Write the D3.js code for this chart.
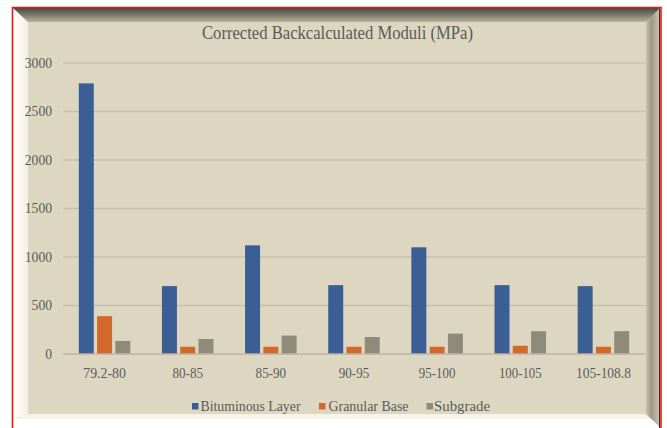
<!DOCTYPE html>
<html>
<head>
<meta charset="utf-8">
<script src="https://cdn.jsdelivr.net/npm/d3@7"></script>
<style>
  html, body { margin: 0; padding: 0; background: #ffffff; }
  svg { display: block; }
  text { font-family: "Liberation Serif", "Times New Roman", serif; fill: #5a5a5a; }
</style>
</head>
<body>
<svg id="chart" width="667" height="428"></svg>
<script>
// Depth intervals (categories)
const categories = ["79.2-80", "80-85", "85-90", "90-95", "95-100", "100-105", "105-108.8"];
const seriesNames = ["Bituminous Layer", "Granular Base", "Subgrade"];
// Corrected backcalculated moduli, MPa
const bituminous = [2790, 700, 1120, 710, 1100, 710, 700];
const granular   = [390, 75, 75, 75, 75, 85, 75];
const subgrade   = [135, 155, 190, 175, 210, 235, 235];
const yTicks = [0, 500, 1000, 1500, 2000, 2500, 3000];
const titleText = "Corrected Backcalculated  Moduli (MPa)";

const seriesValues = [bituminous, granular, subgrade];
const colors = ["#3b5e95", "#d2692a", "#8e8b7b"];

const svg = d3.select("#chart");
const defs = svg.append("defs");

// --- beveled frame ---
const outer = { x0: 13, y0: 8, x1: 660, y1: 419 };
const inner = { x0: 28, y0: 22, x1: 646, y1: 414 };

const gTop = defs.append("linearGradient").attr("id", "gTop").attr("x1", 0).attr("y1", 0).attr("x2", 0).attr("y2", 1);
gTop.append("stop").attr("offset", 0).attr("stop-color", "#4a4a40");
gTop.append("stop").attr("offset", 0.5).attr("stop-color", "#7d7a6a");
gTop.append("stop").attr("offset", 1).attr("stop-color", "#b9b39e");

const gRight = defs.append("linearGradient").attr("id", "gRight").attr("x1", 0).attr("y1", 0).attr("x2", 1).attr("y2", 0);
gRight.append("stop").attr("offset", 0).attr("stop-color", "#c9c2ac");
gRight.append("stop").attr("offset", 0.4).attr("stop-color", "#9e9782");
gRight.append("stop").attr("offset", 1).attr("stop-color", "#cfc8b2");

const gLeft = defs.append("linearGradient").attr("id", "gLeft").attr("x1", 0).attr("y1", 0).attr("x2", 1).attr("y2", 0);
gLeft.append("stop").attr("offset", 0).attr("stop-color", "#ffffff");
gLeft.append("stop").attr("offset", 1).attr("stop-color", "#f3f0e4");

const frame = svg.append("g");
frame.append("rect")
  .attr("x", outer.x0).attr("y", outer.y0)
  .attr("width", outer.x1 - outer.x0).attr("height", outer.y1 - outer.y0)
  .attr("fill", "#ddd7c2");
// left
frame.append("path")
  .attr("d", `M${outer.x0},${outer.y0}L${inner.x0},${inner.y0}L${inner.x0},${inner.y1}L${outer.x0},${outer.y1}Z`)
  .attr("fill", "url(#gLeft)");
// bottom
frame.append("path")
  .attr("d", `M${outer.x0},${outer.y1}L${inner.x0},${inner.y1}L${inner.x1},${inner.y1}L${outer.x1},${outer.y1 + 8}L${outer.x1},${outer.y1}Z`)
  .attr("fill", "#f6f3e8");
// right
frame.append("path")
  .attr("d", `M${outer.x1},${outer.y0}L${inner.x1},${inner.y0}L${inner.x1},${inner.y1}L${outer.x1},${outer.y1 + 8}Z`)
  .attr("fill", "url(#gRight)");
// top
frame.append("path")
  .attr("d", `M${outer.x0},${outer.y0}L${outer.x1},${outer.y0}L${inner.x1},${inner.y0}L${inner.x0},${inner.y0}Z`)
  .attr("fill", "url(#gTop)");
// inner panel
frame.append("rect")
  .attr("x", inner.x0).attr("y", inner.y0)
  .attr("width", inner.x1 - inner.x0).attr("height", inner.y1 - inner.y0)
  .attr("fill", "#ddd7c2");

// red outline (open at the bottom)
frame.append("path")
  .attr("d", `M12.5,428L12.5,7.5L661,7.5L661,428`)
  .attr("fill", "none").attr("stroke", "#e01818").attr("stroke-width", 1.6);
frame.append("path")
  .attr("d", `M659.5,9L659.5,428`)
  .attr("fill", "none").attr("stroke", "#3a2a20").attr("stroke-width", 1);

// --- plot ---
const plot = { left: 63, right: 645, top: 63, bottom: 354 };

const x0 = d3.scaleBand().domain(categories)
  .range([plot.left, plot.right]).paddingInner(0.38).paddingOuter(0.19);
const x1 = d3.scaleBand().domain(seriesNames)
  .range([0, x0.bandwidth()]).paddingInner(0.18);
const y = d3.scaleLinear().domain([0, 3000]).range([plot.bottom, plot.top]);

// gridlines
svg.append("g")
  .selectAll("line").data(yTicks.filter(d => d > 0)).join("line")
  .attr("x1", plot.left).attr("x2", plot.right)
  .attr("y1", d => y(d)).attr("y2", d => y(d))
  .attr("stroke", "#c7c0aa").attr("stroke-width", 1.5);

// y axis labels
const yAxis = d3.axisLeft(y).tickValues(yTicks).tickFormat(d3.format("d")).tickSize(0).tickPadding(0);
const yg = svg.append("g").attr("transform", `translate(${plot.left - 11},0)`).call(yAxis);
yg.select(".domain").remove();
yg.selectAll("text")
  .attr("font-size", 14).attr("fill", "#5a5a5a")
  .attr("font-family", "Liberation Serif")
  .attr("textLength", d => String(d).length * 6.8)
  .attr("lengthAdjust", "spacingAndGlyphs");

// bars
const groups = svg.append("g").selectAll("g").data(categories).join("g")
  .attr("transform", d => `translate(${x0(d)},0)`);
groups.selectAll("rect")
  .data((c, i) => seriesNames.map((s, j) => ({ s, j, v: seriesValues[j][i] })))
  .join("rect")
  .attr("x", d => x1(d.s))
  .attr("width", x1.bandwidth())
  .attr("y", d => y(d.v))
  .attr("height", d => y(0) - y(d.v))
  .attr("fill", d => colors[d.j]);

// baseline
svg.append("line")
  .attr("x1", plot.left).attr("x2", plot.right)
  .attr("y1", y(0)).attr("y2", y(0))
  .attr("stroke", "#bcb5a0").attr("stroke-width", 1.5);

// x axis labels
const xAxis = d3.axisBottom(x0).tickSize(0).tickPadding(0);
const xg = svg.append("g").attr("transform", `translate(0,${plot.bottom + 24})`).call(xAxis);
xg.select(".domain").remove();
xg.selectAll("text")
  .attr("font-size", 14).attr("fill", "#5a5a5a")
  .attr("font-family", "Liberation Serif")
  .attr("dy", 0)
  .attr("textLength", d => d.length * 6.1)
  .attr("lengthAdjust", "spacingAndGlyphs");

// title
svg.append("text")
  .attr("x", 337.5).attr("y", 39)
  .attr("text-anchor", "middle")
  .attr("font-size", 18)
  .attr("fill", "#5e5e5e")
  .attr("textLength", 271)
  .attr("lengthAdjust", "spacingAndGlyphs")
  .text(titleText);

// legend
const legendItems = [
  { name: seriesNames[0], sx: 192, tx: 200.5, tw: 100 },
  { name: seriesNames[1], sx: 319, tx: 328.5, tw: 80 },
  { name: seriesNames[2], sx: 426.5, tx: 434, tw: 56 }
];
const lg = svg.append("g");
legendItems.forEach((it, i) => {
  lg.append("rect").attr("x", it.sx).attr("y", 403).attr("width", 6.5).attr("height", 6.5).attr("fill", colors[i]);
  lg.append("text").attr("x", it.tx).attr("y", 411)
    .attr("font-size", 15).attr("fill", "#5a5a5a")
    .attr("textLength", it.tw).attr("lengthAdjust", "spacingAndGlyphs")
    .text(it.name);
});
</script>
</body>
</html>
